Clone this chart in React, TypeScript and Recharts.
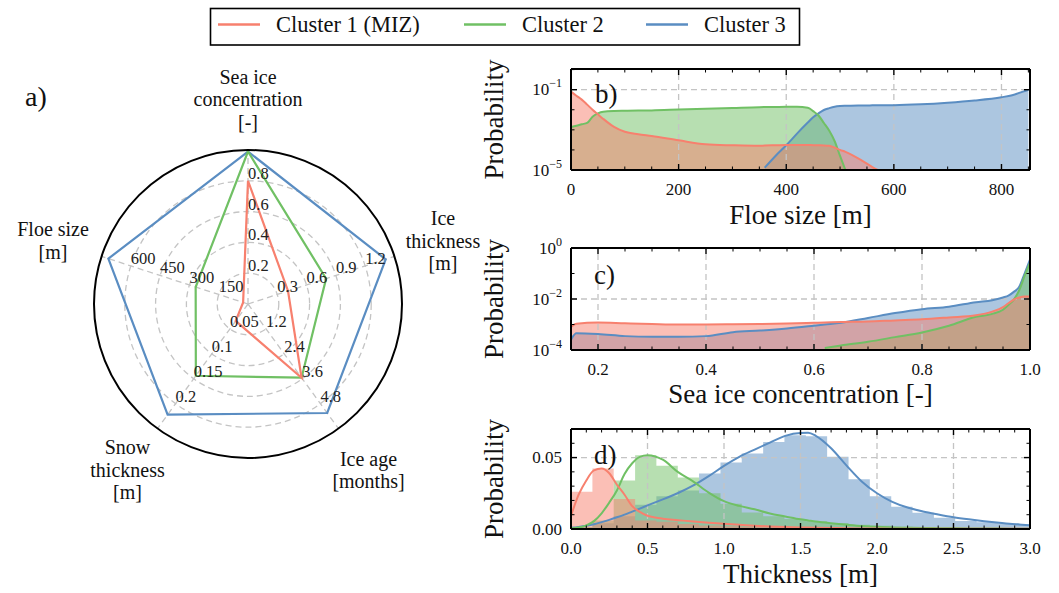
import React from 'react';
import {
  RadarChart, Radar, PolarGrid, PolarAngleAxis, PolarRadiusAxis,
  ComposedChart, Area, Line, XAxis, YAxis, ReferenceLine,
} from 'recharts';

const FONT = '"Liberation Serif", "DejaVu Serif", serif';
const RED = '#f7806e';
const GREEN = '#70c064';
const BLUE = '#5a8dc2';
const GRID = '#c4c4c4';
const INK = '#111';

// ---------- legend ----------
const seriesNames = ['Cluster 1 (MIZ)', 'Cluster 2', 'Cluster 3'];
const seriesColors = [RED, GREEN, BLUE];

// ---------- a) radar ----------
const radarAxes = ['Sea ice\nconcentration\n[-]', 'Ice\nthickness\n[m]', 'Ice age\n[months]', 'Snow\nthickness\n[m]', 'Floe size\n[m]'];
const radarMax = [1.0, 1.5, 6, 0.25, 750];
const radarMiz = [0.80, 0.41, 3.55, 0.034, 25];
const radarC2 = [0.99, 0.80, 3.55, 0.144, 268];
const radarC3 = [0.99, 1.41, 5.25, 0.222, 715];
const radarGridLevels = [0.2, 0.4, 0.6, 0.8];
const radarTickSic = ['0.2', '0.4', '0.6', '0.8'];
const radarTickThick = ['0.3', '0.6', '0.9', '1.2'];
const radarTickAge = ['1.2', '2.4', '3.6', '4.8'];
const radarTickSnow = ['0.05', '0.1', '0.15', '0.2'];
const radarTickFloe = ['150', '300', '450', '600'];
const radarTickLabels = [radarTickSic, radarTickThick, radarTickAge, radarTickSnow, radarTickFloe];

// ---------- b) floe size ----------
const floeX = [0, 10, 20, 30, 40, 50, 60, 80, 100, 125, 150, 200, 250, 300, 350, 360, 380, 400, 420, 440, 450, 460, 470, 480, 490, 500, 510, 520, 540, 560, 570, 600, 650, 700, 750, 800, 820, 840, 850];
const floeMiz = [0.08, 0.05, 0.032, 0.018, 0.01, 0.0059, 0.0035, 0.0014, 0.0008, 0.0006, 0.00049, 0.0003, 0.00019, 0.00017, 0.00016, 0.000165, 0.00017, 0.000175, 0.000175, 0.000175, 0.000172, 0.00017, 0.000168, 0.00016, 0.00013, 0.0001, 0.00008, 0.00006, 0.00003, 0.000014, 0.00001, null, null, null, null, null, null, null, null];
const floeC2 = [0.0014, 0.0016, 0.0019, 0.0022, 0.0045, 0.0066, 0.008, 0.0087, 0.0089, 0.0091, 0.0093, 0.0102, 0.0112, 0.0123, 0.0135, 0.0136, 0.0138, 0.014, 0.014, 0.0126, 0.0085, 0.0052, 0.0022, 0.0009, 0.00027, 0.00005, 0.00001, null, null, null, null, null, null, null, null, null, null, null, null];
const floeC3 = [null, null, null, null, null, null, null, null, null, null, null, null, null, null, null, 0.000013, 0.00005, 0.00017, 0.00065, 0.0023, 0.0042, 0.0066, 0.0097, 0.012, 0.0141, 0.0152, 0.0157, 0.016, 0.0163, 0.0166, 0.0168, 0.017, 0.0188, 0.0225, 0.029, 0.042, 0.053, 0.08, 0.098];
const floeTicks = [0, 50, 100, 150, 200, 250, 300, 350, 400, 450, 500, 550, 600, 650, 700, 750, 800, 850];
const floeMajor = [0, 200, 400, 600, 800];
const floeGrid = [200, 400, 600, 800];
const floeLogTicks = [1e-5, 1e-4, 1e-3, 1e-2, 1e-1, 1];
const floeLogMajor = [1e-5, 1e-1];
const floeLogGrid = [1e-1];

// ---------- c) sea ice concentration ----------
const sicX = [0.15, 0.16, 0.2, 0.25, 0.3, 0.35, 0.4, 0.45, 0.5, 0.55, 0.6, 0.62, 0.65, 0.7, 0.75, 0.8, 0.85, 0.9, 0.93, 0.95, 0.96, 0.97, 0.98, 0.99, 1.0];
const sicMiz = [0.0008, 0.00107, 0.0012, 0.00112, 0.00105, 0.001, 0.001, 0.00102, 0.00105, 0.0011, 0.00117, 0.0012, 0.00125, 0.0013, 0.00145, 0.0016, 0.0019, 0.0023, 0.0032, 0.0048, 0.0068, 0.0095, 0.0115, 0.0125, 0.0125];
const sicC2 = [null, null, null, null, null, null, null, null, null, null, null, 0.00012, 0.00015, 0.00021, 0.00032, 0.00049, 0.0009, 0.002, 0.0026, 0.0038, 0.0058, 0.0095, 0.022, 0.08, 0.26];
const sicC3 = [0.00025, 0.00045, 0.00042, 0.00035, 0.00033, 0.00033, 0.00035, 0.0005, 0.00058, 0.0007, 0.0009, 0.001, 0.00117, 0.0018, 0.0028, 0.004, 0.005, 0.0075, 0.009, 0.0115, 0.0135, 0.019, 0.03, 0.1, 0.35];
const sicTicks = [0.15, 0.2, 0.25, 0.3, 0.35, 0.4, 0.45, 0.5, 0.55, 0.6, 0.65, 0.7, 0.75, 0.8, 0.85, 0.9, 0.95, 1.0];
const sicMajor = [0.2, 0.4, 0.6, 0.8, 1.0];
const sicGrid = [0.2, 0.4, 0.6, 0.8];
const sicLogTicks = [1e-4, 1e-3, 1e-2, 1e-1, 1];
const sicLogMajor = [1e-4, 1e-2, 1];
const sicLogGrid = [1e-2];

// ---------- d) thickness ----------
const thickX = [0, 0.05, 0.1, 0.15, 0.2, 0.25, 0.3, 0.35, 0.4, 0.45, 0.5, 0.55, 0.6, 0.7, 0.8, 0.9, 1.0, 1.1, 1.2, 1.3, 1.4, 1.5, 1.55, 1.6, 1.7, 1.8, 1.9, 2.0, 2.1, 2.2, 2.3, 2.4, 2.5, 2.6, 2.7, 2.8, 2.9, 3.0];
const thickKdeMiz = [0.0093, 0.024, 0.034, 0.041, 0.0423, 0.039, 0.031, 0.024, 0.016, 0.012, 0.0093, 0.008, 0.0072, 0.0062, 0.0052, 0.0043, 0.0036, 0.003, 0.0023, 0.0018, 0.0014, 0.0011, 0.001, 0.0009, 0.0007, 0.0005, 0.0004, 0.0003, 0.00025, 0.0002, 0.00015, 0.0001, 0.0001, 0.0001, 0.0001, 0.0001, 0.0001, 0.0001];
const thickKdeC2 = [0.0005, 0.001, 0.0025, 0.0055, 0.011, 0.0185, 0.027, 0.0385, 0.046, 0.0505, 0.0516, 0.0508, 0.0485, 0.0398, 0.0332, 0.0255, 0.0195, 0.0162, 0.0138, 0.0108, 0.0088, 0.0068, 0.006, 0.0052, 0.004, 0.003, 0.0021, 0.0015, 0.0011, 0.0009, 0.0007, 0.0006, 0.0005, 0.0004, 0.0003, 0.0003, 0.0002, 0.0002];
const thickKdeC3 = [0.0008, 0.0014, 0.0022, 0.0033, 0.0048, 0.0064, 0.0082, 0.0101, 0.0122, 0.0143, 0.0165, 0.0186, 0.0207, 0.0252, 0.0305, 0.037, 0.0442, 0.0505, 0.0556, 0.0605, 0.0652, 0.0672, 0.0673, 0.0652, 0.0565, 0.0445, 0.0333, 0.025, 0.019, 0.015, 0.0123, 0.0102, 0.0083, 0.0068, 0.0055, 0.0044, 0.0034, 0.0027];
const thickBinEdges = [0, 0.14, 0.279, 0.419, 0.558, 0.698, 0.837, 0.977, 1.116, 1.256, 1.395, 1.535, 1.674, 1.814, 1.953, 2.093, 2.232, 2.372, 2.511, 2.651, 2.79, 2.93, 3.0];
const thickHistMiz = [0.026, 0.0423, 0.021, 0.006, 0.005, 0.0035, 0.0025, 0.002, 0.0015, 0.0012, 0.001, 0.0008, 0.0006, 0.0005, 0.0004, 0.0003, 0.0002, 0.0002, 0.0001, 0.0001, 0.0001, 0.0001];
const thickHistC2 = [0.0015, 0.006, 0.034, 0.0516, 0.0442, 0.036, 0.025, 0.0177, 0.0116, 0.009, 0.007, 0.0055, 0.0042, 0.003, 0.0022, 0.0016, 0.0012, 0.0009, 0.0007, 0.0005, 0.0004, 0.0003];
const thickHistC3 = [0.001, 0.004, 0.009, 0.017, 0.023, 0.027, 0.0388, 0.0465, 0.0528, 0.0609, 0.0656, 0.0649, 0.0505, 0.0349, 0.023, 0.0156, 0.0114, 0.0079, 0.0056, 0.0047, 0.004, 0.003];
const thickTicks = [0, 0.1, 0.2, 0.3, 0.4, 0.5, 0.6, 0.7, 0.8, 0.9, 1.0, 1.1, 1.2, 1.3, 1.4, 1.5, 1.6, 1.7, 1.8, 1.9, 2.0, 2.1, 2.2, 2.3, 2.4, 2.5, 2.6, 2.7, 2.8, 2.9, 3.0];
const thickMajor = [0, 0.5, 1.0, 1.5, 2.0, 2.5, 3.0];
const thickGrid = [0.5, 1.0, 1.5, 2.0, 2.5];
const probTicks = [0, 0.01, 0.02, 0.03, 0.04, 0.05, 0.06, 0.07];
const probMajor = [0, 0.05];
const probGrid = [0.05];

// ---------- tables built from the arrays ----------
const radarRows = radarAxes.map((axis, i) => ({
  axis,
  c1: radarMiz[i] / radarMax[i],
  c2: radarC2[i] / radarMax[i],
  c3: radarC3[i] / radarMax[i],
}));
const floeRows = floeX.map((x, i) => ({ x, c1: floeMiz[i], c2: floeC2[i], c3: floeC3[i] }));
const sicRows = sicX.map((x, i) => ({ x, c1: sicMiz[i], c2: sicC2[i], c3: sicC3[i] }));
const thickRows = (() => {
  const m = new Map<string, any>();
  const get = (x: number) => {
    const k = x.toFixed(4);
    if (!m.has(k)) m.set(k, { x });
    return m.get(k);
  };
  thickX.forEach((x, i) => {
    const r = get(x);
    r.k1 = thickKdeMiz[i]; r.k2 = thickKdeC2[i]; r.k3 = thickKdeC3[i];
  });
  thickBinEdges.forEach((x, i) => {
    const j = Math.min(i, thickHistMiz.length - 1);
    const r = get(x);
    r.h1 = thickHistMiz[j]; r.h2 = thickHistC2[j]; r.h3 = thickHistC3[j];
  });
  return Array.from(m.values()).sort((a, b) => a.x - b.x);
})();

// ---------- tick helpers ----------
type Side = 'bottom' | 'top' | 'left' | 'right';
const isIn = (arr: number[], v: number) => arr.some((m) => Math.abs(m - v) <= 1e-6 * Math.abs(m) + 1e-12);
const TICK_FS = 17;

function axisTick(side: Side, majors: number[], labelFn: ((v: number) => React.ReactNode) | null) {
  return (p: any) => {
    const x = Number(p.x);
    const y = Number(p.y);
    const v = Number(p.payload?.value);
    const major = isIn(majors, v);
    const len = major ? 6 : 3.5;
    const sw = major ? 1.4 : 1;
    let c: number[];
    if (side === 'bottom') c = [x, y, x, y - len];
    else if (side === 'top') c = [x, y, x, y + len];
    else if (side === 'left') c = [x, y, x + len, y];
    else c = [x, y, x - len, y];
    let label: React.ReactNode = null;
    if (labelFn && major) {
      if (side === 'bottom') {
        label = (
          <text x={x} y={y + 25} textAnchor="middle" fontSize={TICK_FS} fontFamily={FONT} fill={INK}>{labelFn(v)}</text>
        );
      } else if (side === 'left') {
        label = (
          <text x={x - 9} y={y + 5.5} textAnchor="end" fontSize={TICK_FS} fontFamily={FONT} fill={INK}>{labelFn(v)}</text>
        );
      }
    }
    return (
      <g>
        <line x1={c[0]} y1={c[1]} x2={c[2]} y2={c[3]} stroke="#000" strokeWidth={sw} />
        {label}
      </g>
    );
  };
}

const logLabel = (v: number) => {
  const e = Math.round(Math.log10(v));
  return (
    <>
      <tspan>10</tspan>
      <tspan dy={-8} fontSize={12}>{e < 0 ? '\u2212' + Math.abs(e) : String(e)}</tspan>
    </>
  );
};
const fixed = (d: number) => (v: number) => v.toFixed(d);
const plain = (v: number) => String(v);

type AxesCfg = {
  xDomain: [number, number]; xTicks: number[]; xMajor: number[]; xLabel: (v: number) => React.ReactNode;
  yDomain: [number, number]; yTicks: number[]; yMajor: number[]; yLabel: (v: number) => React.ReactNode; yLog: boolean;
  xGrid: number[]; yGrid: number[];
};

function panelAxes(a: AxesCfg) {
  const frame = { stroke: '#000', strokeWidth: 2 };
  const yScale = a.yLog ? 'log' : 'linear';
  return [
    <XAxis key="xb" xAxisId={0} dataKey="x" type="number" orientation="bottom" height={1} domain={a.xDomain}
      allowDataOverflow ticks={a.xTicks} interval={0} tickSize={0} tickMargin={0} tickLine={false} axisLine={frame}
      tick={axisTick('bottom', a.xMajor, a.xLabel)} />,
    <XAxis key="xt" xAxisId="top" dataKey="x" type="number" orientation="top" height={1} domain={a.xDomain}
      allowDataOverflow ticks={a.xTicks} interval={0} tickSize={0} tickMargin={0} tickLine={false} axisLine={frame}
      tick={axisTick('top', a.xMajor, null)} />,
    <YAxis key="yl" yAxisId={0} type="number" scale={yScale as any} orientation="left" width={1} domain={a.yDomain}
      allowDataOverflow ticks={a.yTicks} interval={0} tickSize={0} tickMargin={0} tickLine={false} axisLine={frame}
      tick={axisTick('left', a.yMajor, a.yLabel)} />,
    <YAxis key="yr" yAxisId="right" type="number" scale={yScale as any} orientation="right" width={1} domain={a.yDomain}
      allowDataOverflow ticks={a.yTicks} interval={0} tickSize={0} tickMargin={0} tickLine={false} axisLine={frame}
      tick={axisTick('right', a.yMajor, null)} />,
    ...a.xGrid.map((g) => (
      <ReferenceLine key={'gx' + g} x={g} stroke={GRID} strokeDasharray="6 4" strokeWidth={1.3} />
    )),
    ...a.yGrid.map((g) => (
      <ReferenceLine key={'gy' + g} y={g} stroke={GRID} strokeDasharray="6 4" strokeWidth={1.3} />
    )),
  ];
}

// draw order: cluster 3 first, cluster 1 last (on top)
const drawOrder = [2, 1, 0];

function fillsAndLines(keys: string[]) {
  return [
    ...drawOrder.map((i) => (
      <Area key={'f' + keys[i]} dataKey={keys[i]} type="monotone" stroke="none" fill={seriesColors[i]} fillOpacity={0.5}
        isAnimationActive={false} dot={false} activeDot={false} connectNulls={false} />
    )),
    ...drawOrder.map((i) => (
      <Line key={'l' + keys[i]} dataKey={keys[i]} type="monotone" stroke={seriesColors[i]} strokeWidth={2}
        isAnimationActive={false} dot={false} activeDot={false} connectNulls={false} />
    )),
  ];
}

// ---------- radar ticks ----------
const radarTick = (labels: string[]) => (p: any) => {
  const i = radarGridLevels.findIndex((l) => Math.abs(l - Number(p.payload?.value)) < 1e-9);
  if (i < 0) return <g />;
  return (
    <text x={p.x} y={p.y - 2} textAnchor="start" fontSize={16.5} fontFamily={FONT} fill="#222">{labels[i]}</text>
  );
};
const angleTick = (p: any) => {
  const lines = String(p.payload?.value).split('\n');
  const lh = 22.5;
  const y0 = p.y - ((lines.length - 1) * lh) / 2 + 7;
  return (
    <text x={p.x} textAnchor="middle" fontSize={20} fontFamily={FONT} fill={INK}>
      {lines.map((l, i) => (
        <tspan key={i} x={p.x} y={y0 + i * lh}>{l}</tspan>
      ))}
    </text>
  );
};

export default function App() {
  const abs = (left: number, top: number): React.CSSProperties => ({ position: 'absolute', left, top });
  return (
    <div style={{ position: 'absolute', left: 0, top: 0, width: 1059, height: 593, background: '#fff', overflow: 'hidden', fontFamily: FONT }}>
      {/* a) radar */}
      <div style={abs(0, 0)}>
        <RadarChart width={520} height={593} data={radarRows} cx={248} cy={304} outerRadius={154}
          margin={{ top: 0, right: 0, bottom: 0, left: 0 }}>
          <PolarGrid gridType="circle" radiusAxisId="r0" stroke={GRID} strokeDasharray="6 4" strokeWidth={1.3} />
          <PolarAngleAxis dataKey="axis" tickLine={false} tickSize={51} tick={angleTick}
            axisLineType="circle" axisLine={{ stroke: '#000', strokeWidth: 2 }} />
          {radarTickLabels.map((labels, i) => (
            <PolarRadiusAxis key={'r' + i} radiusAxisId={'r' + i} angle={90 - 72 * i} type="number" domain={[0, 1]}
              ticks={radarGridLevels} axisLine={false} tickLine={false} tick={radarTick(labels)} />
          ))}
          {[1, 2, 3, 4].map((i) => (
            <Radar key={'hid' + i} dataKey="c1" radiusAxisId={'r' + i} stroke="none" fill="none" fillOpacity={0}
              isAnimationActive={false} dot={false} legendType="none" />
          ))}
          <Radar dataKey="c3" radiusAxisId="r0" stroke={BLUE} strokeWidth={2.2} fill="none" fillOpacity={0}
            isAnimationActive={false} dot={false} />
          <Radar dataKey="c2" radiusAxisId="r0" stroke={GREEN} strokeWidth={2.2} fill="none" fillOpacity={0}
            isAnimationActive={false} dot={false} />
          <Radar dataKey="c1" radiusAxisId="r0" stroke={RED} strokeWidth={2.2} fill="none" fillOpacity={0}
            isAnimationActive={false} dot={false} />
        </RadarChart>
      </div>

      {/* b) floe size */}
      <div style={abs(480, 50)}>
        <ComposedChart width={579} height={180} data={floeRows} margin={{ top: 18, right: 28, bottom: 59, left: 90 }}>
          {panelAxes({
            xDomain: [0, 853], xTicks: floeTicks, xMajor: floeMajor, xLabel: plain,
            yDomain: [1e-5, 1.07], yTicks: floeLogTicks, yMajor: floeLogMajor, yLabel: logLabel, yLog: true,
            xGrid: floeGrid, yGrid: floeLogGrid,
          })}
          {fillsAndLines(['c1', 'c2', 'c3'])}
        </ComposedChart>
      </div>

      {/* c) sea ice concentration */}
      <div style={abs(480, 230)}>
        <ComposedChart width={579} height={180} data={sicRows} margin={{ top: 17, right: 28, bottom: 59, left: 90 }}>
          {panelAxes({
            xDomain: [0.15, 1.0], xTicks: sicTicks, xMajor: sicMajor, xLabel: fixed(1),
            yDomain: [1e-4, 1], yTicks: sicLogTicks, yMajor: sicLogMajor, yLabel: logLabel, yLog: true,
            xGrid: sicGrid, yGrid: sicLogGrid,
          })}
          {fillsAndLines(['c1', 'c2', 'c3'])}
        </ComposedChart>
      </div>

      {/* d) thickness */}
      <div style={abs(480, 410)}>
        <ComposedChart width={579} height={183} data={thickRows} margin={{ top: 18, right: 28, bottom: 63, left: 90 }}>
          {panelAxes({
            xDomain: [0, 3], xTicks: thickTicks, xMajor: thickMajor, xLabel: fixed(1),
            yDomain: [0, 0.07], yTicks: probTicks, yMajor: probMajor, yLabel: fixed(2), yLog: false,
            xGrid: thickGrid, yGrid: probGrid,
          })}
          {drawOrder.map((i) => {
            const k = ['h1', 'h2', 'h3'][i];
            return (
              <Area key={k} dataKey={k} type="stepAfter" stroke="none" fill={seriesColors[i]} fillOpacity={0.5}
                isAnimationActive={false} dot={false} activeDot={false} connectNulls />
            );
          })}
          {drawOrder.map((i) => {
            const k = ['k1', 'k2', 'k3'][i];
            return (
              <Line key={k} dataKey={k} type="monotone" stroke={seriesColors[i]} strokeWidth={2}
                isAnimationActive={false} dot={false} activeDot={false} connectNulls />
            );
          })}
        </ComposedChart>
      </div>

      {/* overlay texts & legend */}
      <svg width={1059} height={593} style={{ position: 'absolute', left: 0, top: 0, pointerEvents: 'none' }}
        fontFamily={FONT} fill={INK}>
        <rect x={210.5} y={8.5} width={589} height={36.5} fill="#fff" stroke="#000" strokeWidth={1.6} />
        {seriesNames.map((n, i) => {
          const lx = [218, 464, 646][i];
          return (
            <g key={n}>
              <line x1={lx} x2={lx + 42} y1={24.5} y2={24.5} stroke={seriesColors[i]} strokeWidth={2.4} />
              <text x={lx + 58} y={32} fontSize={22.5}>{n}</text>
            </g>
          );
        })}
        <text x={25} y={106} fontSize={28}>a)</text>
        <text x={595} y={103} fontSize={27}>b)</text>
        <text x={594} y={284} fontSize={27}>c)</text>
        <text x={594} y={464} fontSize={27}>d)</text>
        <text x={800.5} y={224} fontSize={27} textAnchor="middle">Floe size [m]</text>
        <text x={800.5} y={403} fontSize={27} textAnchor="middle">Sea ice concentration [-]</text>
        <text x={800.5} y={583} fontSize={27} textAnchor="middle">Thickness [m]</text>
        {[119.5, 299, 479].map((cy) => (
          <text key={cy} x={0} y={0} fontSize={27} textAnchor="middle"
            transform={`translate(503, ${cy}) rotate(-90)`}>Probability</text>
        ))}
      </svg>
    </div>
  );
}
